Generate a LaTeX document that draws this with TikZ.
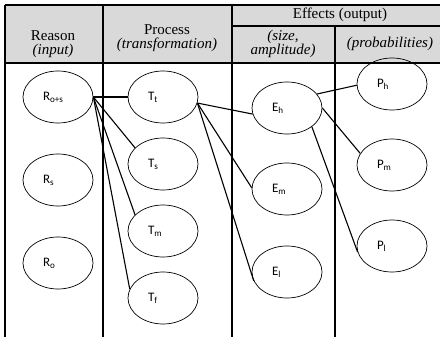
\documentclass[tikz,border=0pt]{standalone}
\usepackage{fontspec}
\setmainfont{Liberation Serif}
\newfontfamily\lblfont{Carlito}
\usetikzlibrary{shapes.geometric}

\tikzset{
  state/.style={ellipse, draw, line width=0.7pt, minimum width=70pt, minimum height=52pt,
    text width=30pt, align=left, inner sep=0pt, font=\lblfont\fontsize{13}{15}\selectfont},
  link/.style={line width=1.1pt},
  rule/.style={line width=1.9pt},
  head/.style={align=center, font=\fontsize{15}{14.5}\selectfont}
}

\begin{document}
\begin{tikzpicture}[x=1pt,y=-1pt]
\useasboundingbox (0,0) rectangle (440,337);

% table
\fill[gray!30] (5,5) rectangle (440,63);
\draw[rule] (5,5) -- (440,5);
\draw[rule] (232,26) -- (440,26);
\draw[rule] (5,63) -- (440,63);
\foreach \x in {5,103,232}
    \draw[rule] (\x,5) -- (\x,337);
\draw[rule] (335,26) -- (335,337);

\node[head] (reason) at (53,44) {Reason\\\textit{(input)}};
\node[head] (process) at (167,38) {Process\\\textit{(transformation)}};
\node[head] (effects) at (340,15) {Effects (output)};
\node[head] (size) at (283,44) {\textit{(size,}\\\textit{amplitude)}};
\node[head] (prob) at (390,44) {\textit{(probabilities)}};

% states
\foreach \n/\t/\y in {Ros/o+s/97, Rs/s/180, Ro/o/263}
    \node[state] (\n) at (58,\y) {R\textsubscript{\t}};
\foreach \n/\t/\y in {Tt/t/97, Ts/s/164, Tm/m/231, Tf/f/298}
    \node[state] (\n) at (163,\y) {T\textsubscript{\t}};
\foreach \n/\t/\y in {Eh/h/108, Em/m/189, El/l/272}
    \node[state] (\n) at (287,\y) {E\textsubscript{\t}};
\foreach \n/\t/\y in {Ph/h/84, Pm/m/165, Pl/l/246}
    \node[state] (\n) at (392,\y) {P\textsubscript{\t}};

% links
\draw[link] (Ros.east) -- (Tt.west);
\foreach \t/\a in {Ts/150, Tm/150, Tf/165}
    \draw[link] (Ros.east) -- (\t.\a);
\foreach \e/\a in {Eh/190, Em/178, El/195}
    \draw[link] (Tt.-10) -- (\e.\a);
\draw[link] (Eh.25) -- (Ph.182);
\draw[link] (Eh.east) -- (Pm.160);
\draw[link] (Eh.-37) -- (Pl.190);
\end{tikzpicture}
\end{document}
